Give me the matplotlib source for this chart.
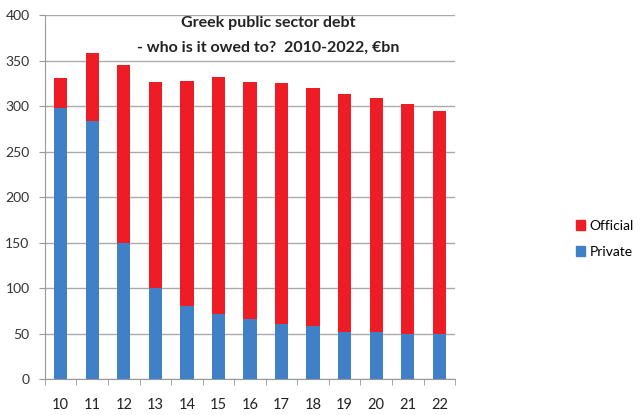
import matplotlib
matplotlib.use("Agg")
import matplotlib.pyplot as plt
from matplotlib.patches import Patch

years = ["10", "11", "12", "13", "14", "15", "16", "17", "18", "19", "20", "21", "22"]
total = [331, 358, 345, 326, 327, 332, 326, 325, 320, 313, 309, 302, 295]
private = [298, 284, 149, 100, 80, 72, 66, 60, 58, 52, 52, 50, 49]
official = [t - p for t, p in zip(total, private)]
yticks = [0, 50, 100, 150, 200, 250, 300, 350, 400]

plt.rcParams['font.family'] = ['Lato', 'DejaVu Sans']
RED = "#ee1c25"
BLUE = "#3f80c6"

fig = plt.figure(figsize=(6.41, 4.15), dpi=100)
ax = fig.add_axes([0.070, 0.0867, 0.640, 0.877])
x = list(range(len(years)))
ax.bar(x, private, width=0.42, color=BLUE, zorder=3)
ax.bar(x, official, bottom=private, width=0.42, color=RED, zorder=3)

ax.set_xlim(-0.5, len(years) - 0.5)
ax.set_ylim(0, 400)
ax.set_yticks(yticks)
ax.set_yticklabels([str(v) for v in yticks], fontsize=10, color="#333333")
ax.set_xticks(x)
ax.set_xticklabels(years, fontsize=10.5, color="#222222")
ax.tick_params(axis='x', length=0, pad=14)
ax.tick_params(axis='y', length=4, color="#999999", pad=7)
ax.set_xticks([i + 0.5 for i in range(-1, len(years))], minor=True)
ax.tick_params(axis='x', which='minor', length=4, color="#999999")
ax.grid(axis='y', color="#aaaaaa", linewidth=1, zorder=0)
for s in ['top', 'right']:
    ax.spines[s].set_visible(False)
ax.spines['left'].set_color("#999999")
ax.spines['bottom'].set_color("#999999")

fig.text(268/641, 1 - 23/415, "Greek public sector debt", ha='center', va='center',
         fontsize=11.5, fontweight='bold', color="#222222")
fig.text(268/641, 1 - 48/415, "- who is it owed to?  2010-2022, \u20acbn", ha='center', va='center',
         fontsize=11.5, fontweight='bold', color="#222222")

handles = [Patch(color=RED, label="Official"), Patch(color=BLUE, label="Private")]
fig.legend(handles=handles, loc='center left', bbox_to_anchor=(563/641, 1 - 239/415),
           frameon=False, fontsize=10, handlelength=0.7, handleheight=0.7,
           handletextpad=0.3, labelspacing=1.0)

fig.savefig("out.png", dpi=100)
